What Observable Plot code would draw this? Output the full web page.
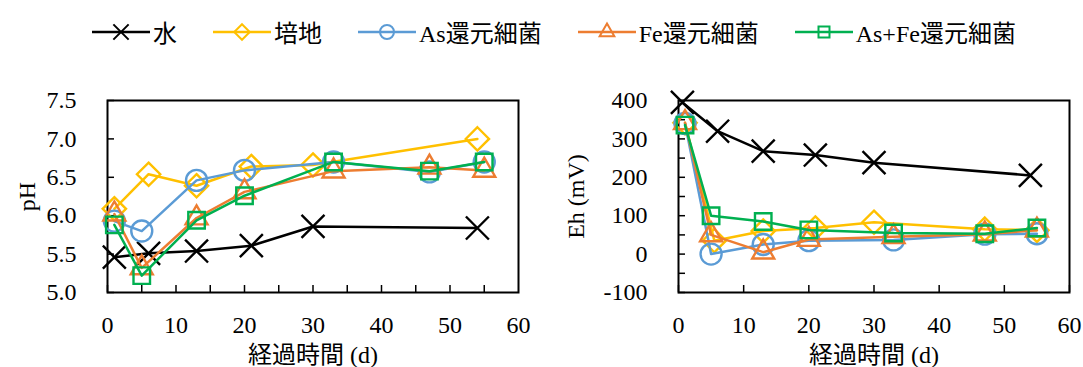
<!DOCTYPE html>
<html><head><meta charset="utf-8">
<script src="https://cdn.jsdelivr.net/npm/d3@7"></script>
<script src="https://cdn.jsdelivr.net/npm/@observablehq/plot@0.6"></script>
<style>
body{margin:0;background:#fff;width:1083px;height:367px;position:relative;overflow:hidden;font-family:"Liberation Serif","Noto Sans CJK JP",serif;}
#legend{position:absolute;left:92px;top:14px;display:flex;gap:36px;align-items:center;font-size:24px;color:#000;}
.item{display:flex;align-items:center;gap:3px;white-space:nowrap}
#c1{position:absolute;left:0;top:60px}
#c2{position:absolute;left:540px;top:60px}
</style></head><body>
<div id="legend"></div><div id="c1"></div><div id="c2"></div>
<script>
const seriesNames = ["水","培地","As還元細菌","Fe還元細菌","As+Fe還元細菌"];
const seriesColors = ["#000000","#FFC000","#5B9BD5","#ED7D31","#00B050"];
const seriesSymbols = ["times","diamond2","circle","triangle2","square2"];

// pH panel
const waterDaysPH = [1,6,13,21,30,54];
const waterPH     = [5.46,5.51,5.54,5.61,5.86,5.84];
const mediumDaysPH = [1,6,13,21,30,54];
const mediumPH     = [6.09,6.54,6.39,6.64,6.66,7.00];
const asDaysPH = [1,5,13,20,33,47,55];
const asPH     = [5.93,5.80,6.46,6.59,6.70,6.57,6.70];
const feDaysPH = [1,5,13,20,33,47,55];
const fePH     = [6.02,5.32,5.97,6.31,6.58,6.63,6.59];
const asfeDaysPH = [1,5,13,20,33,47,55];
const asfePH     = [5.88,5.22,5.94,6.26,6.70,6.58,6.70];

// Eh panel
const waterDaysEh = [0.6,6,13,21,30,54];
const waterEh     = [395,320,268,258,238,205];
const mediumDaysEh = [1,5.5,13,21,30,47,55];
const mediumEh     = [342,35,60,68,83,65,62];
const asDaysEh = [1,5,13,20,33,47,55];
const asEh     = [340,0,25,35,37,52,53];
const feDaysEh = [1,5,13,20,33,47,55];
const feEh     = [342,50,5,38,45,52,62];
const asfeDaysEh = [1,5,13,20,33,47,55];
const asfeEh     = [336,100,85,63,55,53,68];

const xTickMarks = [0,5,10,15,20,25,30,35,40,45,50,55];
const xTickLabels = [0,10,20,30,40,50,60];
const pHTicks = [5.0,5.5,6.0,6.5,7.0,7.5];
const EhTickMarks = [-100,-50,0,50,100,150,200,250,300,350,400];
const EhTickLabels = [-100,0,100,200,300,400];
const xTitle = "経過時間 (d)";

const pHSeries = [[waterDaysPH,waterPH],[mediumDaysPH,mediumPH],[asDaysPH,asPH],[feDaysPH,fePH],[asfeDaysPH,asfePH]];
const EhSeries = [[waterDaysEh,waterEh],[mediumDaysEh,mediumEh],[asDaysEh,asEh],[feDaysEh,feEh],[asfeDaysEh,asfeEh]];

const font = '"Liberation Serif","Noto Sans CJK JP",serif';

function seriesMarks(series) {
  const marks = [];
  series.forEach(([days, vals], i) => {
    const rows = days.map((d, j) => ({day: d, value: vals[j], series: seriesNames[i]}));
    marks.push(Plot.line(rows, {x: "day", y: "value", stroke: seriesColors[i], strokeWidth: 2.5}));
    marks.push(Plot.dot(rows, {x: "day", y: "value", stroke: seriesColors[i], symbol: seriesSymbols[i], r: 10.5, strokeWidth: 2.4, fill: "none"}));
  });
  return marks;
}

function makeChart({series, width, marginLeft, marginRight, yDomain, yMarks, yLabels, yFormat, yTitle, yLabelOffset, xMarks}) {
  return Plot.plot({
    width, height: 307,
    marginLeft, marginRight, marginTop: 40, marginBottom: 75,
    style: {fontSize: "24px", fontFamily: font, color: "#000", background: "transparent"},
    x: {domain: [0, 60]},
    y: {domain: yDomain},
    marks: [
      Plot.axisX({ticks: xMarks, tickSize: 7, insetBottom: 7, tickFormat: () => "", label: null, strokeWidth: 1.5}),
      Plot.axisX({ticks: xTickLabels, tickSize: 0, tickPadding: 23, label: xTitle, labelAnchor: "center", labelOffset: 70, labelArrow: "none", fill: "#000"}),
      Plot.axisY({ticks: yMarks, tickSize: 7, insetLeft: 7, tickFormat: () => "", label: null, strokeWidth: 1.5}),
      Plot.axisY({ticks: yLabels, tickSize: 0, tickPadding: 31, tickFormat: yFormat, label: yTitle, labelAnchor: "center", labelOffset: yLabelOffset, labelArrow: "none", fill: "#000"}),
      Plot.frame({stroke: "#000", strokeWidth: 2}),
      ...seriesMarks(series)
    ]
  });
}

document.getElementById("c1").append(makeChart({
  series: pHSeries, width: 540, marginLeft: 107, marginRight: 22,
  yDomain: [5, 7.5], yMarks: pHTicks, yLabels: pHTicks, yFormat: d3.format(".1f"),
  yTitle: "pH", yLabelOffset: 90, xMarks: xTickMarks
}));
document.getElementById("c2").append(makeChart({
  series: EhSeries, width: 543, marginLeft: 138, marginRight: 14,
  yDomain: [-100, 400], yMarks: EhTickMarks, yLabels: EhTickLabels, yFormat: d => String(d),
  yTitle: "Eh (mV)", yLabelOffset: 112, xMarks: xTickLabels
}));

// legend
const legend = d3.select("#legend");
const symMap = {times: d3.symbolTimes, diamond2: d3.symbolDiamond2, circle: d3.symbolCircle, triangle2: d3.symbolTriangle2, square2: d3.symbolSquare2};
seriesNames.forEach((name, i) => {
  const item = legend.append("div").attr("class", "item");
  const svg = item.append("svg").attr("width", 58).attr("height", 24);
  svg.append("line").attr("x1", 0).attr("x2", 58).attr("y1", 12).attr("y2", 12).attr("stroke", seriesColors[i]).attr("stroke-width", 2.5);
  svg.append("path").attr("transform", "translate(29,12)")
    .attr("d", d3.symbol(symMap[seriesSymbols[i]], Math.PI * 7 * 7)())
    .attr("fill", "none").attr("stroke", seriesColors[i]).attr("stroke-width", 2);
  item.append("span").text(name);
});
</script>
</body></html>
